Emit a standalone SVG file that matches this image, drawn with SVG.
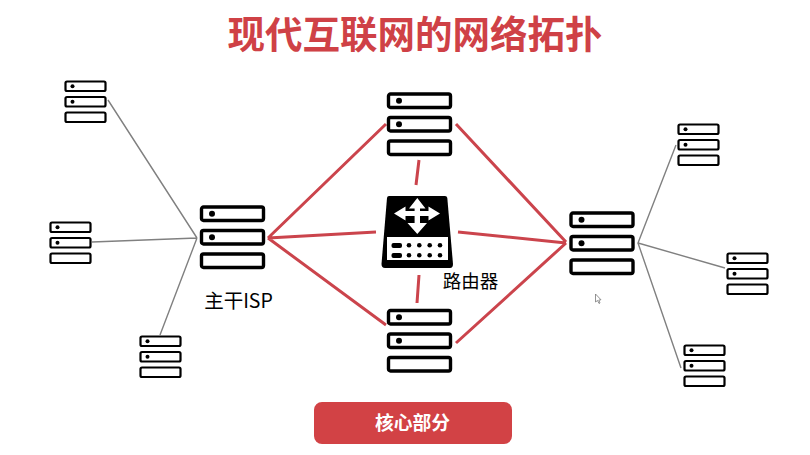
<svg xmlns="http://www.w3.org/2000/svg" width="810" height="455" viewBox="0 0 810 455">
<style>
.t{font-family:"Noto Sans CJK SC","Noto Sans",sans-serif}
.bar{fill:#fff;stroke:#000;stroke-linejoin:round}
.red{stroke:#cb444c;stroke-width:3;fill:none}
.gray{stroke:#808080;stroke-width:1.4;fill:none}
</style>
<defs>
<g id="srv">
<rect class="bar" x="1.500" y="1.500" width="62" height="13.500" rx="2" stroke-width="3.400"/>
<circle cx="12" cy="8.200" r="3"/>
<rect class="bar" x="1.500" y="25" width="62" height="13.500" rx="2" stroke-width="3.400"/>
<circle cx="12" cy="31.700" r="3"/>
<rect class="bar" x="1.500" y="48.500" width="62" height="13.500" rx="2" stroke-width="3.400"/>
</g>
<g id="srvs">
<rect class="bar" x="1" y="1" width="40" height="9.500" rx="1.500" stroke-width="2.200"/>
<circle cx="8" cy="5.700" r="2"/>
<rect class="bar" x="1" y="16.500" width="40" height="9.500" rx="1.500" stroke-width="2.200"/>
<circle cx="8" cy="21.200" r="2"/>
<rect class="bar" x="1" y="32" width="40" height="9.500" rx="1.500" stroke-width="2.200"/>
</g>
</defs>
<rect width="810" height="455" fill="#fff"/>
<text class="t" x="415" y="48" font-size="37.500" font-weight="700" fill="#cf4146" text-anchor="middle">现代互联网的网络拓扑</text>
<g id="connectors">
<path class="red" d="M268 238L386 124M268 238L386 325M268 238L376 232M456 124L566 242M456 343L566 243M458 232L566 243M419 160L416 185M419 275L417 303"/>
<path class="gray" d="M108 100L197 238M92 242L197 238M160 335L197 238M676 145L638 243L725 268M638 243L681 368"/>
</g>
<g id="isp-left-1"><use href="#srvs" x="64.500" y="80.500"/></g>
<g id="isp-left-2"><use href="#srvs" x="49.500" y="221.500"/></g>
<g id="isp-left-3"><use href="#srvs" x="139.500" y="335.500"/></g>
<g id="isp-right-1"><use href="#srvs" x="677.500" y="123.500"/></g>
<g id="isp-right-2"><use href="#srvs" x="726.500" y="252.500"/></g>
<g id="isp-right-3"><use href="#srvs" x="683.500" y="344.500"/></g>
<g id="backbone-left"><use href="#srv" x="200" y="205.500"/><text class="t" x="238.500" y="308" font-size="19.500" text-anchor="middle">主干ISP</text></g>
<g id="backbone-top"><use href="#srv" x="387" y="92.500"/></g>
<g id="backbone-bottom"><use href="#srv" x="387" y="309"/></g>
<g id="backbone-right"><use href="#srv" x="569.500" y="211.500"/></g>
<g id="router">
<path d="M389 196H445Q447 196 447.300 198L453 264Q453 268 450 268H385Q381.500 268 381.500 264L387 198Q387.200 196 389 196Z"/>
<path fill="#fff" d="M417.300 198L425.500 208.500H420V211H428.500V206.500L440 213.500L428.500 220.500V216H420V223H427L417.300 234L407.500 223H414.600V216H405.500V220.500L394 213.500L405.500 206.500V211H414.600V208.500H409Z"/>
<rect x="387" y="237" width="61" height="23" fill="#fff"/>
<rect x="391.500" y="243" width="10.500" height="5" rx="2"/>
<rect x="391.500" y="253" width="10.500" height="5" rx="2"/>
<g>
<circle cx="409" cy="245.300" r="2.300"/><circle cx="419.300" cy="245.300" r="2.300"/><circle cx="429.700" cy="245.300" r="2.300"/><circle cx="440" cy="245.300" r="2.300"/>
<circle cx="409" cy="255.300" r="2.300"/><circle cx="419.300" cy="255.300" r="2.300"/><circle cx="429.700" cy="255.300" r="2.300"/><circle cx="440" cy="255.300" r="2.300"/>
</g>
<text class="t" x="470.500" y="288" font-size="18.500" text-anchor="middle">路由器</text>
</g>
<path id="cursor" d="M595.500 294V302L597.500 300.500L599 303.500L600 303L598.800 300L601 299.800Z" fill="#fff" stroke="#777" stroke-width=".8"/>
<g id="core">
<rect x="314" y="402" width="198" height="42" rx="8" fill="#d24245"/>
<text class="t" x="412.500" y="430" font-size="18.800" font-weight="700" fill="#fff" text-anchor="middle">核心部分</text>
</g>
</svg>
